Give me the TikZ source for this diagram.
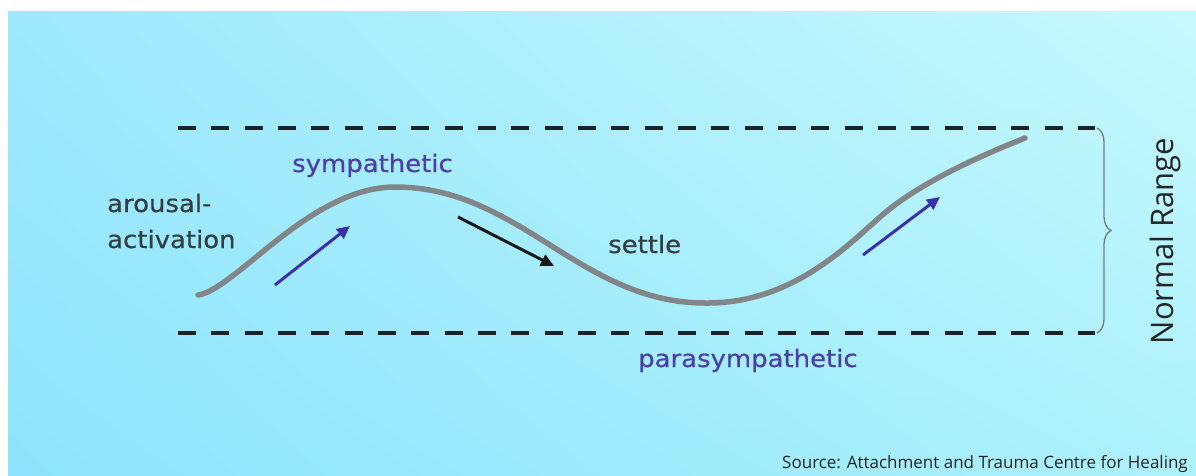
\documentclass[tikz,border=0pt]{standalone}
\usepackage{fontspec}
\setmainfont{DejaVu Sans}
\newfontfamily\comicfont[FakeStretch=1.08,FakeBold=0.6]{DejaVu Sans}
\newfontfamily\uifont{Open Sans}
\usetikzlibrary{decorations.pathreplacing,arrows.meta,shadings}
\definecolor{bgUL}{RGB}{158,233,252}
\definecolor{bgUR}{RGB}{198,249,253}
\definecolor{bgLL}{RGB}{142,228,252}
\definecolor{bgLR}{RGB}{172,241,251}
\definecolor{curvegray}{RGB}{130,134,136}
\definecolor{darktext}{RGB}{52,62,66}
\definecolor{purpletext}{RGB}{78,62,168}
\definecolor{arrowblue}{RGB}{58,48,170}
\definecolor{dashcol}{RGB}{25,35,40}
\definecolor{bracecol}{RGB}{110,125,132}
\tikzset{
  comictext/.style={inner sep=0pt, font=\comicfont\fontsize{24}{28}\selectfont},
  rangeline/.style={draw=dashcol, line width=4pt, dash pattern=on 18pt off 15.33pt},
  wave/.style={draw=curvegray, line width=5.5pt, line cap=round},
  bluearrow/.style={draw=arrowblue, line width=3pt, -{Triangle[length=13pt,width=12pt]}},
  blackarrow/.style={draw=black!90, line width=3pt, -{Triangle[length=13pt,width=12pt]}},
}
\begin{document}
\begin{tikzpicture}[x=1pt,y=-1pt]
\useasboundingbox (0,0) rectangle (1196,476);
\fill[white] (0,0) rectangle (1196,476);
\shade[upper left=bgUL, upper right=bgUR, lower left=bgLL, lower right=bgLR] (8,12) rectangle (1196,476);

% range lines
\coordinate (tl) at (178,128);
\coordinate (tr) at (1095,128);
\coordinate (bl) at (178,333);
\coordinate (br) at (1095,333);
\draw[rangeline] (tl) -- (tr);
\draw[rangeline] (bl) -- (br);

% brace
\coordinate (bt) at (1097,128);
\coordinate (bb) at (1097,333);
\draw[draw=bracecol, line width=1.3pt, decorate, decoration={brace, amplitude=14pt}] (bt) -- (bb);

% wave
\coordinate (w0) at (198,295);
\coordinate (w1) at (395,187);
\coordinate (w2) at (705,303);
\coordinate (w3) at (880,217);
\coordinate (w4) at (1025,138);
\draw[wave] (w0) .. controls (235,290) and (310,187) .. (w1)
  .. controls (520,187) and (580,303) .. (w2)
  .. controls (790,304) and (845,248) .. (w3)
  .. controls (915,186) and (970,160) .. (w4);

% arrows
\coordinate (a1s) at (275,285);
\coordinate (a1e) at (350,226);
\coordinate (a2s) at (458,217);
\coordinate (a2e) at (554,266);
\coordinate (a3s) at (863,255);
\coordinate (a3e) at (940,197);
\draw[bluearrow] (a1s) -- (a1e);
\draw[blackarrow] (a2s) -- (a2e);
\draw[bluearrow] (a3s) -- (a3e);

% labels
\node[comictext, text=darktext, anchor=base west] (arousal) at (107,212) {arousal-};
\node[comictext, text=darktext, anchor=base west] (activation) at (107,248) {activation};
\node[comictext, text=purpletext, anchor=base west] (symp) at (292,172) {sympathetic};
\node[comictext, text=darktext, anchor=base west] (settle) at (608,253) {settle};
\node[comictext, text=purpletext, anchor=base west] (para) at (638,367) {parasympathetic};
\node[inner sep=0pt, rotate=90, text=black!85, font=\uifont\fontsize{31}{36}\selectfont] (normal) at (1165,241) {Normal Range};
\node[inner sep=0pt, anchor=base east, text=black!85, font=\uifont\fontsize{17}{20}\selectfont] (source) at (1188,468) {Source: Attachment and Trauma Centre for Healing};
\end{tikzpicture}
\end{document}
